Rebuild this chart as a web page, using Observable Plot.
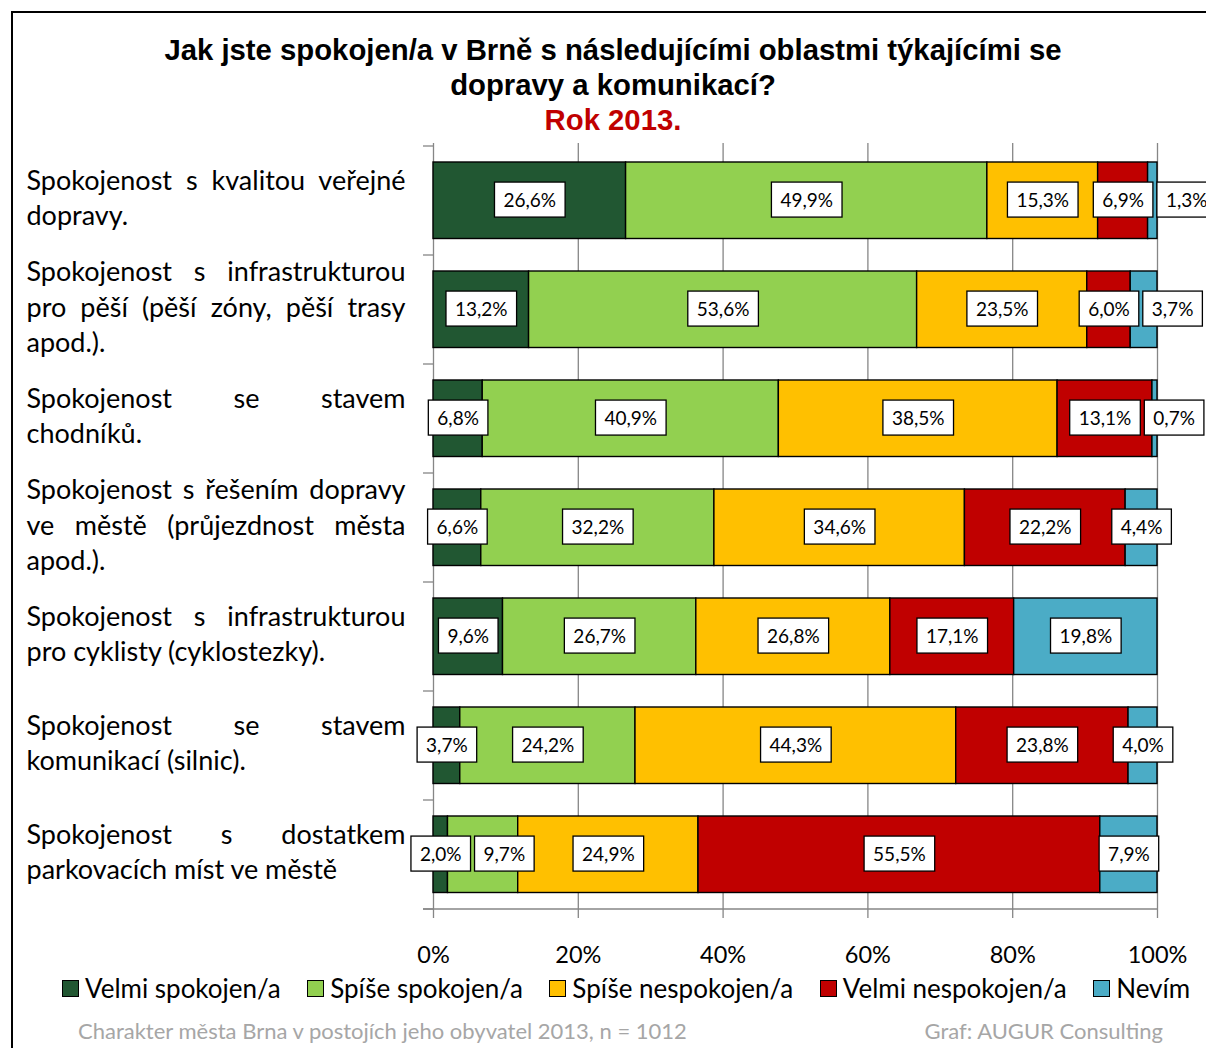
<!DOCTYPE html>
<html><head><meta charset="utf-8">
<script src="https://cdn.jsdelivr.net/npm/d3@7"></script>
<script src="https://cdn.jsdelivr.net/npm/@observablehq/plot@0.6"></script>
<style>
body{margin:0;width:1206px;height:1048px;overflow:hidden;background:#fff;position:relative;font-family:Lato,"Open Sans",sans-serif;}
#frame{position:absolute;left:11px;top:11px;width:1300px;height:1200px;border:2px solid #000;box-sizing:border-box;}
#title{position:absolute;left:0;top:32px;width:1226px;text-align:center;font:bold 29.3px "Liberation Sans",Arial,sans-serif;line-height:35px;color:#000;white-space:nowrap;}
#title .red{color:#C00000;}
#chart{position:absolute;left:0;top:130px;}
#legend{position:absolute;left:62px;top:973px;display:flex;gap:26.5px;font-size:26px;line-height:30px;white-space:nowrap;}
#legend .item{display:flex;align-items:center;gap:6px;}
#legend .sw{width:15px;height:15px;border:1.5px solid #000;}
.foot{position:absolute;top:1017px;font-size:22px;color:#a6a6a6;line-height:28px;white-space:nowrap;}
</style></head><body>
<div id="frame"></div>
<div id="title">Jak jste spokojen/a v Brně s následujícími oblastmi týkajícími se<br>dopravy a komunikací?<br><span class="red">Rok 2013.</span></div>
<div id="chart"></div>
<div id="legend"></div>
<div class="foot" style="left:78px">Charakter města Brna v postojích jeho obyvatel 2013, n = 1012</div>
<div class="foot" style="right:43px">Graf: AUGUR Consulting</div>
<script>
const categories = [
  "Spokojenost s kvalitou veřejné\ndopravy.",
  "Spokojenost s infrastrukturou\npro pěší (pěší zóny, pěší trasy\napod.).",
  "Spokojenost se stavem\nchodníků.",
  "Spokojenost s řešením dopravy\nve městě (průjezdnost města\napod.).",
  "Spokojenost s infrastrukturou\npro cyklisty (cyklostezky).",
  "Spokojenost se stavem\nkomunikací (silnic).",
  "Spokojenost s dostatkem\nparkovacích míst ve městě"
];
const series = ["Velmi spokojen/a","Spíše spokojen/a","Spíše nespokojen/a","Velmi nespokojen/a","Nevím"];
const colors = ["#215732","#92D050","#FFC000","#C00000","#4BACC6"];
const velmiSpokojen   = [26.6,13.2, 6.8, 6.6, 9.6, 3.7, 2.0];
const spiseSpokojen   = [49.9,53.6,40.9,32.2,26.7,24.2, 9.7];
const spiseNespokojen = [15.3,23.5,38.5,34.6,26.8,44.3,24.9];
const velmiNespokojen = [ 6.9, 6.0,13.1,22.2,17.1,23.8,55.5];
const nevim           = [ 1.3, 3.7, 0.7, 4.4,19.8, 4.0, 7.9];
const xTicks = [0,20,40,60,80,100];

const seriesValues = [velmiSpokojen, spiseSpokojen, spiseNespokojen, velmiNespokojen, nevim];
const data = [];
categories.forEach((c, i) => series.forEach((s, j) => data.push({cat: c, series: s, value: seriesValues[j][i]})));
const fmt = v => v.toFixed(1).replace(".", ",") + "%";

function boundaryTicks(index, scales, values, dimensions) {
  const y = scales.y, x = scales.x;
  const step = y(categories[1]) - y(categories[0]);
  const ys = categories.map(c => y(c)).concat([y(categories[categories.length - 1]) + step]);
  const x0 = x(0);
  const g = d3.create("svg:g").attr("stroke", "#868686").attr("stroke-width", 1.3);
  g.selectAll("line.t").data(ys).join("line").attr("class", "t")
    .attr("x1", x0 - 10).attr("x2", x0).attr("y1", d => d).attr("y2", d => d);
  const yb = ys[ys.length - 1];
  g.append("line").attr("x1", x0 - 10).attr("x2", x(100)).attr("y1", yb).attr("y2", yb);
  return g.node();
}

const plot = Plot.plot({
  width: 1206, height: 841,
  marginTop: 13, marginBottom: 60, marginLeft: 433, marginRight: 49,
  style: {fontFamily: "Lato, 'Open Sans', sans-serif", background: "transparent", overflow: "visible", color: "#000"},
  x: {domain: [0, 100]},
  y: {domain: categories, padding: 0},
  color: {domain: series, range: colors},
  marks: [
    Plot.ruleX(xTicks, {stroke: "#868686", strokeWidth: 1.3, insetBottom: -7}),
    boundaryTicks,
    Plot.barX(data, Plot.stackX({x: "value", y: "cat", fill: "series", order: series, stroke: "#000", strokeWidth: 1.4, insetTop: 16, insetBottom: 16.5})),
    Plot.text(data, Plot.stackX({x: "value", y: "cat", z: "series", order: series, text: d => fmt(d.value), fontSize: 19, fill: "#000"})),
    Plot.axisX({ticks: xTicks, tickSize: 0, tickPadding: 35, tickFormat: d => d + "%", fontSize: 23.5, label: null}),
    Plot.axisY({tickSize: 0, tickPadding: 407, textAnchor: "start", fontSize: 27, lineHeight: 1.33, dy: -5, label: null})
  ]
});
document.getElementById("chart").appendChild(plot);

// justify category labels (all lines but the last)
const justifyWidth = 379;
plot.querySelectorAll('g[aria-label="y-axis tick label"] text').forEach(t => {
  const spans = t.querySelectorAll("tspan");
  spans.forEach((sp, k) => {
    if (k === spans.length - 1) return;
    const w = sp.getComputedTextLength();
    const n = (sp.textContent.match(/ /g) || []).length;
    if (n > 0) sp.setAttribute("word-spacing", (justifyWidth - w) / n);
  });
});

// white boxes behind value labels, nudged right when they collide within a row
const SVGNS = "http://www.w3.org/2000/svg";
const padX = 9, padY = 6, gapMin = 4;
const rows = new Map();
plot.querySelectorAll('g[aria-label="text"] text').forEach(t => {
  const wrap = document.createElementNS(SVGNS, "g");
  t.parentNode.insertBefore(wrap, t);
  const b = t.getBBox();
  const r = document.createElementNS(SVGNS, "rect");
  r.setAttribute("x", b.x - padX); r.setAttribute("y", b.y - padY);
  r.setAttribute("width", b.width + 2 * padX); r.setAttribute("height", b.height + 2 * padY);
  r.setAttribute("fill", "#fff"); r.setAttribute("stroke", "#000"); r.setAttribute("stroke-width", 1.3);
  if (t.getAttribute("transform")) r.setAttribute("transform", t.getAttribute("transform"));
  wrap.appendChild(r); wrap.appendChild(t);
  const cr = t.getBoundingClientRect();
  const key = Math.round(cr.top + cr.height / 2);
  if (!rows.has(key)) rows.set(key, []);
  rows.get(key).push({wrap, left: cr.left - padX, right: cr.right + padX});
});
rows.forEach(items => {
  items.sort((a, b) => a.left - b.left);
  let prevRight = -Infinity;
  items.forEach(it => {
    let shift = 0;
    if (it.left < prevRight + gapMin) shift = prevRight + gapMin - it.left;
    if (shift) it.wrap.setAttribute("transform", `translate(${shift},0)`);
    prevRight = it.right + shift;
  });
});

// legend
const legend = document.getElementById("legend");
series.forEach((s, i) => {
  const it = document.createElement("div"); it.className = "item";
  const sw = document.createElement("div"); sw.className = "sw"; sw.style.background = colors[i];
  const tx = document.createElement("span"); tx.textContent = s;
  it.appendChild(sw); it.appendChild(tx); legend.appendChild(it);
});
</script>
</body></html>
